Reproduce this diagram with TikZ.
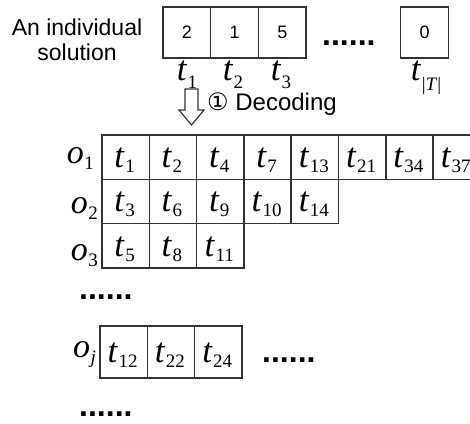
\documentclass[tikz,border=0pt]{standalone}
\usepackage{fontspec}
\setmainfont{Liberation Serif}
\setsansfont{Liberation Sans}
\newfontfamily\dejavu{DejaVu Sans}
\newcommand\tv[2][5pt]{\textit{t}\kern0.5pt\raisebox{-#1}{\fontsize{19}{19}\selectfont #2}}
\newcommand\tl[2][8pt]{\textit{t}\kern0.5pt\raisebox{-#1}[0pt][0pt]{\fontsize{19}{19}\selectfont #2}}
\newcommand\tc[1]{\tv{#1}\kern2pt}
\newcommand\ov[1]{\textit{o}\kern0.5pt\raisebox{-6pt}{\fontsize{19}{19}\selectfont #1}}
\begin{document}
\begin{tikzpicture}[x=1pt,y=-1pt,
  gbox/.style={draw=black!80, line width=1.3pt, minimum width=47.7pt, minimum height=51pt, inner sep=0pt, font=\sffamily\fontsize{18}{18}\selectfont},
  cell/.style={draw=black!80, line width=1.6pt, minimum width=47.3pt, minimum height=44.3pt, inner sep=0pt, font=\fontsize{35}{35}\selectfont, text height=26pt, text depth=5pt},
  celltall/.style={cell, minimum height=52pt},
  tlab/.style={font=\fontsize{35}{35}\selectfont, inner sep=0pt, anchor=base},
  olab/.style={font=\fontsize{34}{34}\selectfont, inner sep=0pt, anchor=base east},
  dotrow/.style={font=\sffamily\bfseries\fontsize{32}{32}\selectfont, inner sep=0pt, anchor=base west, text height=4pt, text depth=0pt},
  txt/.style={font=\sffamily\fontsize{23}{25}\selectfont, inner sep=0pt}]
\useasboundingbox (0,0) rectangle (470,423);
% top individual
\node[txt, align=center] (ind) at (77,40) {An individual\\solution};
\node[gbox] (g1) at (186.85,32.5) {2};
\node[gbox] (g2) at (234.55,32.5) {1};
\node[gbox] (g3) at (282.25,32.5) {5};
\node[dotrow] (gd) at (322,45) {......};
\node[gbox] (gT) at (424.5,32.5) {0};
\node[tlab] (l1) at (187,80) {\tl[8pt]{1}};
\node[tlab] (l2) at (233,80) {\tl[8pt]{2}};
\node[tlab] (l3) at (281,80) {\tl[8pt]{3}};
\node[tlab] (lT) at (426,80) {\tl[10pt]{\textbar\textit{T}\textbar}};
% decoding arrow
\draw[draw=black!80, line width=1.2pt, fill=white, line join=miter]
  (185,89) -- (198,89) -- (198,110) -- (204,110) -- (191.5,125) -- (179,110) -- (185,110) -- cycle;
\node[txt, anchor=base west, font=\sffamily\fontsize{24}{24}\selectfont, text height=17pt, text depth=5pt] (dec) at (207,110) {{\dejavu ①} Decoding};
% grid
\foreach \s [count=\k from 0] in {1,2,4,7,13,21,34,37}
  \node[cell] (ra\k) at ({102+47.3*(\k+0.5)},157.15) {\tc{\s}};
\foreach \s [count=\k from 0] in {3,6,9,10,14}
  \node[cell] (rb\k) at ({102+47.3*(\k+0.5)},201.45) {\tc{\s}};
\foreach \s [count=\k from 0] in {5,8,11}
  \node[cell] (rc\k) at ({102+47.3*(\k+0.5)},245.75) {\tc{\s}};
\foreach \s [count=\k from 0] in {12,22,24}
  \node[celltall] (rj\k) at ({100+47.3*(\k+0.5)},352) {\tc{\s}};
\node[olab] (o1) at (94,163) {\ov{1}};
\node[olab] (o2) at (98,213) {\ov{2}};
\node[olab] (o3) at (98,260) {\ov{3}};
\node[olab] (oj) at (96,357) {\ov{\textit{j}}};
\node[dotrow] (d1) at (79,299) {......};
\node[dotrow] (d2) at (262,362) {......};
\node[dotrow] (d3) at (79,416) {......};
\end{tikzpicture}
\end{document}
